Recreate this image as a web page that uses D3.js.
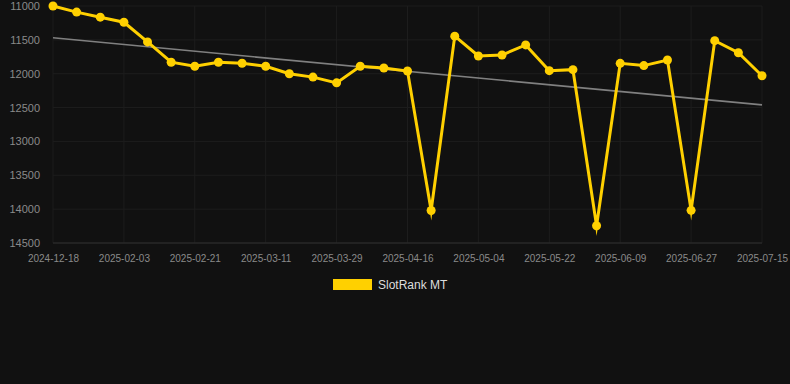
<!DOCTYPE html>
<html>
<head>
<style>
body { margin: 0; background: #111111; }
svg { display: block; font-family: "Liberation Sans", Arial, sans-serif; }
.grid line { stroke: #1d1d1d; stroke-width: 1; }
.axis text { fill: #8a8a8a; }
.axis path, .axis line { stroke: none; }
</style>
<title>SlotRank MT</title>
<script src="https://cdn.jsdelivr.net/npm/d3@7/dist/d3.min.js"></script>
</head>
<body>
<svg width="790" height="384"></svg>
<script>

var dates = ["2024-12-18","2025-01-22","2025-01-28","2025-02-03","2025-02-09","2025-02-15",
  "2025-02-21","2025-02-27","2025-03-05","2025-03-11","2025-03-17","2025-03-23",
  "2025-03-29","2025-04-04","2025-04-10","2025-04-16","2025-04-22","2025-04-28",
  "2025-05-04","2025-05-10","2025-05-16","2025-05-22","2025-05-28","2025-06-03",
  "2025-06-09","2025-06-15","2025-06-21","2025-06-27","2025-07-03","2025-07-09","2025-07-15"];

var rank = [11000,11090,11165,11240,11530,11830,11890,11830,11845,11890,
  12000,12050,12135,11890,11915,11960,14020,11445,11738,11724,
  11575,11955,11940,14245,11847,11880,11797,14018,11512,11690,12030];

var trend = [11470, 12460];   // start / end of the trend line
var yTicks = [11000,11500,12000,12500,13000,13500,14000,14500];
var xTicks = dates.filter(function(d, i) { return i % 3 === 0; });

var svg = d3.select("svg"),
    margin = {top: 6, left: 53},
    width = 762 - 53,
    height = 243 - 6;

var x = d3.scalePoint().domain(dates).range([0, width]);
var y = d3.scaleLinear().domain([11000, 14500]).range([0, height]);

var g = svg.append("g")
    .attr("transform", "translate(" + margin.left + "," + margin.top + ")");

// grid
g.append("g").attr("class", "grid")
  .selectAll("line").data(yTicks).enter().append("line")
    .attr("x1", 0).attr("x2", width)
    .attr("y1", function(d) { return y(d); })
    .attr("y2", function(d) { return y(d); });

g.append("g").attr("class", "grid")
  .selectAll("line").data(xTicks).enter().append("line")
    .attr("x1", function(d) { return x(d); })
    .attr("x2", function(d) { return x(d); })
    .attr("y1", 0).attr("y2", height);

g.append("line")
    .attr("x1", 0).attr("x2", width)
    .attr("y1", height).attr("y2", height)
    .attr("stroke", "#2e2e2e");

g.append("g")
    .attr("class", "axis")
    .attr("transform", "translate(-10,0)")
    .call(d3.axisLeft(y).tickValues(yTicks).tickSize(0).tickFormat(d3.format("d")))
    .selectAll("text").attr("font-size", "11px");

g.append("g")
    .attr("class", "axis")
    .attr("transform", "translate(0," + (height + 9) + ")")
    .call(d3.axisBottom(x).tickValues(xTicks).tickSize(0))
    .selectAll("text").attr("font-size", "10px");

// trend line
g.append("line")
    .attr("x1", x(dates[0])).attr("y1", y(trend[0]))
    .attr("x2", x(dates[dates.length - 1])).attr("y2", y(trend[1]))
    .attr("stroke", "#808080")
    .attr("stroke-width", 1.6);

var line = d3.line()
    .x(function(d, i) { return x(dates[i]); })
    .y(function(d) { return y(d); });

g.append("path")
    .datum(rank)
    .attr("d", line)
    .attr("fill", "none")
    .attr("stroke", "#ffd000")
    .attr("stroke-width", 3)
    .attr("stroke-linejoin", "miter")
    .attr("stroke-miterlimit", 16);

g.selectAll(".pt")
  .data(rank)
  .enter().append("circle")
    .attr("class", "pt")
    .attr("cx", function(d, i) { return x(dates[i]); })
    .attr("cy", function(d) { return y(d); })
    .attr("r", 4.5)
    .attr("fill", "#ffd000");

// legend
var lg = svg.append("g").attr("transform", "translate(333,279)");
lg.append("rect")
    .attr("width", 39).attr("height", 11)
    .attr("fill", "#ffd000");
lg.append("text")
    .attr("x", 45).attr("y", 6)
    .attr("dy", "0.35em")
    .attr("font-size", "12px")
    .attr("fill", "#dddddd")
    .text("SlotRank MT");

</script>
</body>
</html>
